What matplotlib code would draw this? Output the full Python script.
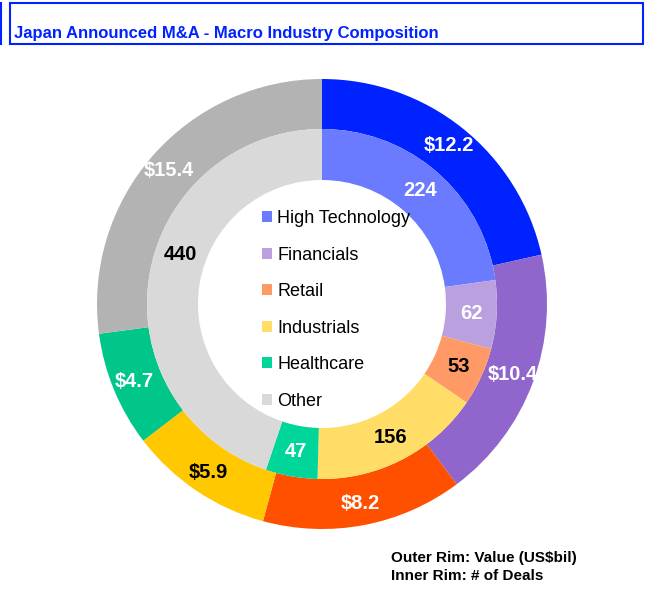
import matplotlib.pyplot as plt
from matplotlib.patches import Rectangle, Patch
from matplotlib.lines import Line2D
import numpy as np

plt.rcParams['font.family'] = ['Liberation Sans', 'DejaVu Sans']

categories = ['High Technology', 'Financials', 'Retail', 'Industrials', 'Healthcare', 'Other']
values_bil = [12.2, 10.4, 8.2, 5.9, 4.7, 15.4]
deal_counts = [224, 62, 53, 156, 47, 440]

outer_colors = ['#0022ff', '#9065cc', '#ff5000', '#ffc800', '#00c68a', '#b3b3b3']
inner_colors = ['#6a7bff', '#bba0e0', '#ff9966', '#ffdd66', '#00d699', '#d9d9d9']
outer_text = ['white', 'white', 'white', 'black', 'white', 'white']
inner_text = ['white', 'white', 'black', 'black', 'white', 'black']
inner_nudge = [0, 0, 0, 0, 0, 10]  # degrees, label placement only

W, H = 645, 611


def main():
    fig = plt.figure(figsize=(W / 100, H / 100), dpi=100)

    # donut: center (322, 304) px, outer radius 225 px
    cx, cy, R = 322, 304, 225
    ax = fig.add_axes([(cx - R) / W, (H - cy - R) / H, 2 * R / W, 2 * R / H])

    r_out_in = 175 / R
    r_in_in = 124 / R
    ax.pie(values_bil, radius=1.0, colors=outer_colors, startangle=90, counterclock=False,
           wedgeprops=dict(width=1.0 - r_out_in, linewidth=0))
    ax.pie(deal_counts, radius=r_out_in, colors=inner_colors, startangle=90, counterclock=False,
           wedgeprops=dict(width=r_out_in - r_in_in, linewidth=0))
    ax.set_xlim(-1, 1)
    ax.set_ylim(-1, 1)
    ax.axis('off')

    def put_labels(vals, rad, fmt, cols, nudge):
        tot = float(sum(vals))
        start = 0.0
        for v, c, n in zip(vals, cols, nudge):
            mid = start + v / tot * 360 / 2 + n
            start += v / tot * 360
            a = np.deg2rad(90 - mid)
            ax.text(rad * np.cos(a), rad * np.sin(a), fmt(v), ha='center', va='center',
                    fontsize=14.5, fontweight='bold', color=c)

    put_labels(values_bil, 203 / R, lambda v: f'${v:.1f}', outer_text, [0] * 6)
    put_labels(deal_counts, 150 / R, lambda v: f'{v}', inner_text, inner_nudge)

    handles = [Patch(facecolor=c, edgecolor='none') for c in inner_colors]
    ax.legend(handles, categories, loc='center', bbox_to_anchor=(336 / W, (H - 310) / H),
              bbox_transform=fig.transFigure, frameon=False, fontsize=13,
              handlelength=0.55, handleheight=0.55, handletextpad=0.3, labelspacing=1.08)

    # title box
    fig.patches.append(Rectangle((10 / W, (H - 44) / H), 633 / W, 41 / H, transform=fig.transFigure,
                                 fill=False, edgecolor='#0022ff', linewidth=1.5))
    fig.lines.append(Line2D([1 / W, 1 / W], [(H - 3) / H, (H - 44) / H], transform=fig.transFigure,
                            color='#0022ff', linewidth=1.5))
    fig.text(14 / W, (H - 38) / H, 'Japan Announced M&A - Macro Industry Composition',
             color='#0022ff', fontsize=12, fontweight='bold', va='baseline')

    fig.text(391 / W, (H - 562) / H, 'Outer Rim: Value (US$bil)', fontsize=11,
             fontweight='bold', va='baseline')
    fig.text(391 / W, (H - 580) / H, 'Inner Rim: # of Deals', fontsize=11,
             fontweight='bold', va='baseline')

    fig.savefig('out.png', dpi=100)


if __name__ == '__main__':
    main()
